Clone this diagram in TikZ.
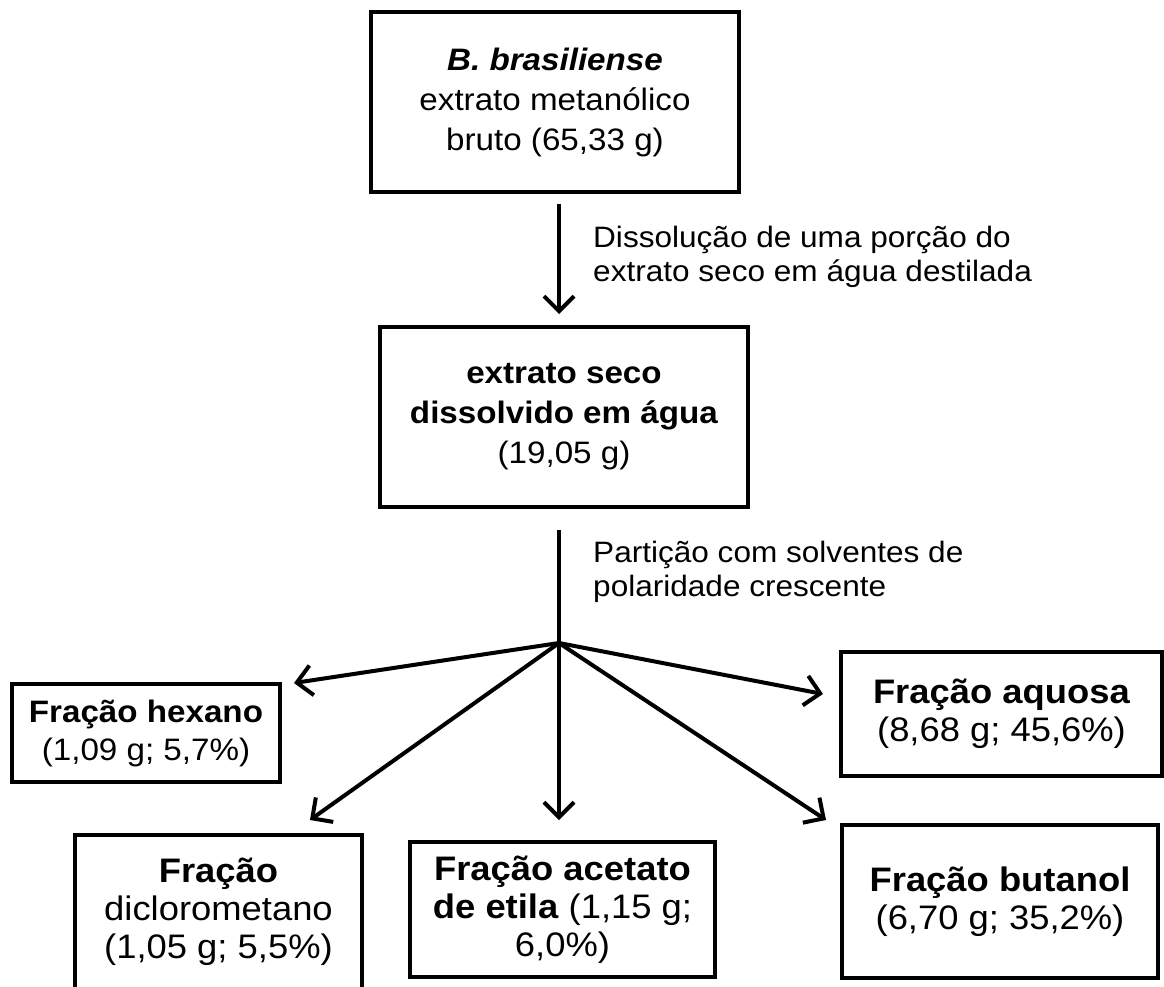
\documentclass[tikz,border=0pt]{standalone}
\usepackage{fontspec}
\setmainfont{Liberation Sans}[FakeStretch=1.07]
\usetikzlibrary{arrows.meta,calc}
\newcommand\bxfont{\fontsize{31}{40}\selectfont}
\newcommand\bxfonth{\fontsize{31}{38}\selectfont}
\newcommand\bxfontb{\fontsize{34}{38}\selectfont}
\newcommand\lbfont{\fontsize{29.5}{34}\selectfont}
\begin{document}
\begin{tikzpicture}[x=1pt,y=-1pt,
  box/.style={draw, line width=4pt, align=center, inner sep=0pt, font=\bxfont},
  boxh/.style={box, font=\bxfonth},
  boxb/.style={box, font=\bxfontb},
  arr/.style={line width=4pt, -{Straight Barb[length=15pt,width=30pt]}},
  link/.style={line width=4pt},
  lab/.style={anchor=west, align=left, inner sep=0pt, font=\lbfont}]
\fill[white] (0,0) rectangle (1164,987);
\useasboundingbox (0,0) rectangle (1164,987);
\clip (0,0) rectangle (1164,987);

\node[box, minimum width=368pt, minimum height=180pt] (src) at (555,102)
  {\textbf{\textit{B. brasiliense}}\\extrato metanólico\\bruto (65,33 g)};
\node[box, minimum width=368pt, minimum height=180pt] (dis) at (564,417)
  {\textbf{extrato seco}\\\textbf{dissolvido em água}\\(19,05 g)};

\coordinate (j) at (559,643);

\node[boxh, minimum width=268pt, minimum height=98pt] (hex) at (146,733)
  {\textbf{Fração hexano}\\(1,09 g; 5,7\%)};
\node[boxb, minimum width=321pt, minimum height=124pt] (aq) at (1001.5,714)
  {\textbf{Fração aquosa}\\(8,68 g; 45,6\%)};
\node[boxb, minimum width=287pt, minimum height=154pt] (dcm) at (218.5,912)
  {\textbf{Fração}\\diclorometano\\(1,05 g; 5,5\%)};
\node[boxb, minimum width=305pt, minimum height=135pt] (eta) at (562.5,909.5)
  {\textbf{Fração acetato}\\\textbf{de etila} (1,15 g;\\6,0\%)};
\node[boxb, minimum width=316pt, minimum height=153pt] (but) at (1000,901.5)
  {\textbf{Fração butanol}\\(6,70 g; 35,2\%)};

\node[lab] (l1) at (593,257) {Dissolução de uma porção do\\extrato seco em água destilada};
\node[lab] (l2) at (593,572) {Partição com solventes de\\polaridade crescente};

\coordinate (thex) at (294,683);
\coordinate (taq) at (823,694);
\coordinate (tdcm) at (310,820);
\coordinate (teta) at (559,820);
\coordinate (tbut) at (826,820);

\draw[arr, shorten <=10pt, shorten >=11pt] (src.south -| j) -- (dis.north -| j);
\draw[link, shorten <=21pt] (dis.south -| j) -- (j);
\draw[arr] (j) -- (thex);
\draw[arr] (j) -- (taq);
\draw[arr] (j) -- (tdcm);
\draw[arr] (j) -- (teta);
\draw[arr] (j) -- (tbut);
\end{tikzpicture}
\end{document}
